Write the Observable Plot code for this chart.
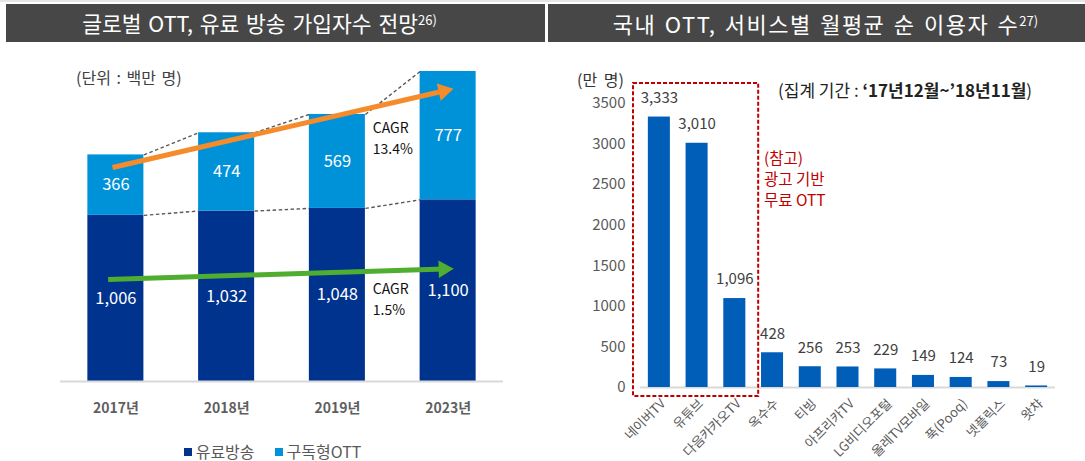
<!DOCTYPE html>
<html><head><meta charset="utf-8">
<script src="https://cdn.jsdelivr.net/npm/d3@7"></script>
<script src="https://cdn.jsdelivr.net/npm/@observablehq/plot@0.6"></script>
<style>
body{margin:0;background:#fff;width:1085px;height:461px;overflow:hidden;position:relative;font-family:"Noto Sans CJK KR","Noto Sans",sans-serif;}
.topline{position:absolute;left:0;top:0;width:1085px;height:2px;background:#e6e6e6;}
.hdr{position:absolute;top:4px;height:38px;background:#474747;color:#fff;line-height:38px;text-align:center;box-sizing:border-box;white-space:nowrap;}
.hdr sup{font-size:13px;vertical-align:7px;line-height:0;letter-spacing:0;}
.abs{position:absolute;white-space:nowrap;}
#left{position:absolute;top:42px;left:0;}
#right{position:absolute;top:42px;left:545px;}
.sq{display:inline-block;width:8px;height:8px;margin-right:4px;vertical-align:2px;}
.note{position:absolute;left:764px;font-size:15.5px;line-height:22px;height:22px;color:#c00000;white-space:nowrap;}
</style></head><body>
<div class="topline"></div>
<div class="hdr" style="left:6px;width:539px;font-size:21.5px;word-spacing:2px;padding-right:32px;">글로벌 OTT, 유료 방송 가입자수 전망<sup>26)</sup></div>
<div class="hdr" style="left:548px;width:537px;font-size:22px;letter-spacing:1.5px;word-spacing:2px;padding-left:18px;">국내 OTT, 서비스별 월평균 순 이용자 수<sup>27)</sup></div>
<div id="left"></div>
<div id="right"></div>
<div class="abs" style="left:76px;top:65px;font-size:16px;word-spacing:2px;color:#404040;">(단위 : 백만 명)</div>
<div class="abs" style="left:577px;top:67px;font-size:16px;word-spacing:3px;color:#333;">(만 명)</div>
<div class="abs" style="left:778px;top:77px;font-size:17px;color:#222;">(집계 기간 : <b>‘17년12월~’18년11월</b>)</div>
<div class="note" style="top:146px;">(참고)</div>
<div class="note" style="top:167px;">광고 기반</div>
<div class="note" style="top:188px;">무료 OTT</div>
<div class="abs" id="legend" style="left:0;width:545px;top:442px;line-height:19px;text-align:center;font-size:16px;color:#595959;"></div>
<script>
// ---- Left chart data ----
const years = ["2017년", "2018년", "2019년", "2023년"];
const payTV = [1006, 1032, 1048, 1100];
const svod = [366, 474, 569, 777];
const seriesNames = ["유료방송", "구독형OTT"];
const seriesColors = ["#00338d", "#0092d9"];
// CAGR annotations (data coords)
const cagrLabels = ["CAGR\n13.4%", "CAGR\n1.5%"];
const cagrPos = [[2.32, 1480], [2.32, 509]];
const trendStart = [[-0.03, 1296], [-0.07, 618]];
const trendEnd = [[2.96, 1759], [2.96, 681]];
const trendColors = ["#f68b2c", "#4fae30"];

// ---- Right chart data ----
const services = ["네이버TV", "유튜브", "다음카카오TV", "옥수수", "티빙", "아프리카TV", "LG비디오포털", "올레TV모바일", "푹(Pooq)", "넷플릭스", "왓챠"];
const users = [3333, 3010, 1096, 428, 256, 253, 229, 149, 124, 73, 19];
const yTicks = [0, 500, 1000, 1500, 2000, 2500, 3000, 3500];

const FONT = '"Noto Sans CJK KR","Noto Sans",sans-serif';

// ---------- LEFT ----------
{
  const W = 545, H = 419, ml = 60, mr = 42, mt = 29, mb = 80;
  const yMax = d3.max(payTV.map((v, i) => v + svod[i]));
  const hw = 0.253;
  const rows = years.map((y, i) => ({i, year: y, pay: payTV[i], ott: svod[i], total: payTV[i] + svod[i]}));
  const links = [];
  for (let i = 0; i < rows.length - 1; i++) {
    links.push({x1: i + hw, x2: i + 1 - hw, y1: rows[i].pay, y2: rows[i + 1].pay});
    links.push({x1: i + hw, x2: i + 1 - hw, y1: rows[i].total, y2: rows[i + 1].total});
  }
  const kx = (W - ml - mr) / years.length, ky = (H - mt - mb) / yMax;
  const trends = trendStart.map((s, k) => {
    const e = trendEnd[k];
    const ang = Math.atan2((e[1] - s[1]) * ky, (e[0] - s[0]) * kx) * 180 / Math.PI;
    return {x1: s[0], y1: s[1], x2: e[0], y2: e[1], color: trendColors[k], rot: 90 - ang};
  });
  const cagr = cagrLabels.map((t, k) => ({t, x: cagrPos[k][0], y: cagrPos[k][1]}));
  const plot = Plot.plot({
    width: W, height: H, marginLeft: ml, marginRight: mr, marginTop: mt, marginBottom: mb,
    style: {fontFamily: FONT, background: "transparent", overflow: "visible"},
    x: {type: "linear", domain: [-0.5, years.length - 0.5]},
    y: {domain: [0, yMax], axis: null},
    marks: [
      Plot.rect(rows, {x1: d => d.i - hw, x2: d => d.i + hw, y1: 0, y2: "pay", fill: seriesColors[0]}),
      Plot.rect(rows, {x1: d => d.i - hw, x2: d => d.i + hw, y1: "pay", y2: "total", fill: seriesColors[1]}),
      Plot.ruleY([0], {stroke: "#d9d9d9", strokeWidth: 2}),
      Plot.link(links, {x1: "x1", x2: "x2", y1: "y1", y2: "y2", stroke: "#595959", strokeWidth: 1.4, strokeDasharray: "3.5,2.5"}),
      Plot.link(trends, {x1: "x1", x2: "x2", y1: "y1", y2: "y2", stroke: "color", strokeWidth: 5}),
      Plot.dot(trends, {x: "x2", y: "y2", symbol: "triangle", r: 6.5, fill: "color", rotate: "rot"}),
      Plot.text(rows, {x: "i", y: d => d.pay / 2, text: d => d3.format(",")(d.pay), fill: "white", fontSize: 16.5}),
      Plot.text(rows, {x: "i", y: d => d.pay + d.ott / 2, text: d => d3.format(",")(d.ott), fill: "white", fontSize: 16.5}),
      Plot.text(cagr, {x: "x", y: "y", text: "t", textAnchor: "start", fontSize: 14, lineHeight: 1.5, fill: "#111"}),
      Plot.axisX({ticks: d3.range(years.length), tickFormat: i => years[i], tickSize: 0, tickPadding: 22, fontSize: 14, fontWeight: "bold", fill: "#5f5f5f", label: null})
    ]
  });
  document.getElementById("left").appendChild(plot);
}

// ---------- RIGHT ----------
{
  const W = 540, H = 419, ml = 95, mr = 30, mt = 61, mb = 74;
  const hw = 0.292;
  const rows = services.map((s, i) => ({i, s, v: users[i]}));
  const plot = Plot.plot({
    width: W, height: H, marginLeft: ml, marginRight: mr, marginTop: mt, marginBottom: mb,
    style: {fontFamily: FONT, background: "transparent", overflow: "visible"},
    x: {type: "linear", domain: [-0.5, services.length - 0.5]},
    y: {domain: [0, d3.max(yTicks)]},
    marks: [
      Plot.ruleY([0], {stroke: "#d9d9d9", strokeWidth: 2}),
      Plot.rect(rows, {x1: d => d.i - hw, x2: d => d.i + hw, y1: 0, y2: "v", fill: "#005eb8"}),
      Plot.text(rows, {x: "i", y: "v", text: d => d3.format(",")(d.v), dy: -19, fontSize: 15, fill: "#404040"}),
      Plot.rect([{a: -0.5, b: 2.5}], {x1: "a", x2: "b", y1: 0, y2: d3.max(yTicks), fill: "none", stroke: "#c00000", strokeWidth: 2, strokeDasharray: "4,2", insetLeft: -7, insetRight: -5, insetTop: -20, insetBottom: -9}),
      Plot.axisY({ticks: yTicks, tickFormat: d3.format("d"), tickSize: 0, tickPadding: 15, fontSize: 15, fill: "#595959", label: null}),
      Plot.axisX({ticks: d3.range(services.length), tickFormat: i => services[i], tickRotate: -45, tickSize: 0, tickPadding: 14, dx: 4, fontSize: 13, fill: "#595959", label: null})
    ]
  });
  document.getElementById("right").appendChild(plot);
}

// legend
document.getElementById("legend").innerHTML = seriesNames.map((n, k) =>
  `<span style="margin:0 10px"><span class="sq" style="background:${seriesColors[k]}"></span>${n}</span>`).join("");
</script>
</body></html>
